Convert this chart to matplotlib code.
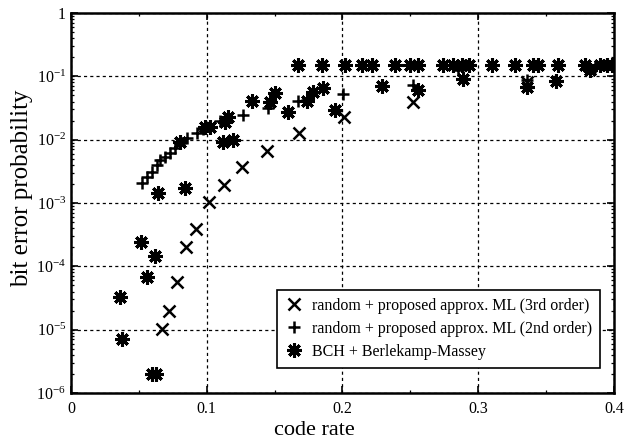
import numpy as np
import matplotlib
matplotlib.use("Agg")
import matplotlib.pyplot as plt
from matplotlib.ticker import FixedLocator, FuncFormatter, LogLocator, NullFormatter

plt.rcParams['font.family'] = ['Liberation Serif', 'DejaVu Serif']
plt.rcParams['mathtext.fontset'] = 'custom'
plt.rcParams['mathtext.rm'] = 'Liberation Serif'
plt.rcParams['mathtext.it'] = 'Liberation Serif:italic'

# random + proposed approx. ML (3rd order)
rate_3rd = [0.0674, 0.0723, 0.0782, 0.0845, 0.0924, 0.1015, 0.1127, 0.126,
            0.1442, 0.1676, 0.2011, 0.2519, 0.336]
ber_3rd = [1.02e-5, 2.0e-5, 5.7e-5, 2.05e-4, 3.9e-4, 1.05e-3, 1.92e-3, 3.7e-3,
           6.7e-3, 1.26e-2, 2.28e-2, 4.0e-2, 8.1e-2]

# random + proposed approx. ML (2nd order)
rate_2nd = [0.0521, 0.0558, 0.0594, 0.0631, 0.0656, 0.0692, 0.0729, 0.0766,
            0.0803, 0.0852, 0.0926, 0.0975, 0.1098, 0.1269, 0.1453, 0.1674,
            0.1736, 0.2006, 0.2516, 0.285, 0.3359, 0.386]
ber_2nd = [2.05e-3, 2.6e-3, 3.1e-3, 4.0e-3, 4.8e-3, 5.4e-3, 6.1e-3, 7.3e-3,
           8.8e-3, 1.05e-2, 1.26e-2, 1.5e-2, 2.0e-2, 2.45e-2, 3.2e-2, 4.15e-2,
           4.2e-2, 5.3e-2, 7.3e-2, 0.126, 8.75e-2, 0.14]

# BCH + Berlekamp-Massey
rate_bch = [0.036, 0.0376, 0.0519, 0.0558, 0.0619, 0.0594, 0.0628, 0.0643,
            0.084, 0.0803, 0.0987, 0.1024, 0.1122, 0.1196, 0.1134, 0.1159,
            0.133, 0.1466, 0.1503, 0.1596, 0.1674, 0.174, 0.1785, 0.1854,
            0.1851, 0.1945, 0.2018, 0.2145, 0.222, 0.2289, 0.2387, 0.2497,
            0.2558, 0.2558, 0.2743, 0.2816, 0.2878, 0.2935, 0.289, 0.3099,
            0.3271, 0.3404, 0.344, 0.3357, 0.3589, 0.3573, 0.3785, 0.3823,
            0.3897, 0.3946, 0.3983]
ber_bch = [3.3e-5, 7.0e-6, 2.45e-4, 6.7e-5, 1.45e-4, 2.0e-6, 2.0e-6, 1.42e-3,
           1.7e-3, 9.3e-3, 1.6e-2, 1.6e-2, 9.3e-3, 9.9e-3, 1.9e-2, 2.3e-2,
           4.1e-2, 4.0e-2, 5.4e-2, 2.7e-2, 0.151, 4.1e-2, 5.7e-2, 6.6e-2,
           0.151, 2.95e-2, 0.151, 0.151, 0.151, 7.0e-2, 0.151, 0.151,
           0.151, 6.1e-2, 0.151, 0.151, 0.151, 0.151, 9.0e-2, 0.151,
           0.151, 0.151, 0.151, 6.9e-2, 0.151, 8.5e-2, 0.151, 0.126,
           0.151, 0.151, 0.151]

x_ticks = [0, 0.1, 0.2, 0.3, 0.4]
x_tick_labels = ['0', '0.1', '0.2', '0.3', '0.4']
y_ticks = [1e-6, 1e-5, 1e-4, 1e-3, 1e-2, 1e-1, 1]


def decade_label(v, pos):
    if v >= 1:
        return '1'
    return r'$10^{%d}$' % int(round(np.log10(v)))


fig = plt.figure(figsize=(6.26, 4.44), dpi=100)
ax = fig.add_axes([0.1134, 0.1149, 0.8674, 0.8558])

ax.semilogy(rate_3rd, ber_3rd, linestyle='none', marker='x', color='black',
            markersize=8, markeredgewidth=1.8,
            label='random + proposed approx. ML (3rd order)')
ax.semilogy(rate_2nd, ber_2nd, linestyle='none', marker='+', color='black',
            markersize=9, markeredgewidth=1.8,
            label='random + proposed approx. ML (2nd order)')
ax.semilogy(rate_bch, ber_bch, linestyle='none', marker=(8, 2, 0), color='black',
            markersize=10.5, markeredgewidth=2.2,
            label='BCH + Berlekamp-Massey')

ax.set_xlim(0, 0.4)
ax.set_ylim(1e-6, 1)

ax.xaxis.set_major_locator(FixedLocator(x_ticks))
ax.set_xticklabels(x_tick_labels)
ax.xaxis.set_minor_locator(FixedLocator([0.05, 0.15, 0.25, 0.35]))
ax.yaxis.set_major_locator(FixedLocator(y_ticks))
ax.yaxis.set_major_formatter(FuncFormatter(decade_label))
ax.yaxis.set_minor_locator(LogLocator(base=10, subs=np.arange(2, 10), numticks=20))
ax.yaxis.set_minor_formatter(NullFormatter())

ax.tick_params(which='both', direction='in', top=True, right=True, labelsize=11.5)
ax.tick_params(which='major', length=5, width=1.2)
ax.tick_params(which='minor', length=2.5, width=0.9)
ax.tick_params(axis='x', pad=6)

ax.grid(True, which='major', color='black', linestyle=(0, (2.5, 2.5)), linewidth=0.9)

for s in ax.spines.values():
    s.set_linewidth(1.8)

ax.set_xlabel('code rate', fontsize=16)
ax.set_ylabel('bit error probability', fontsize=18)
ax.xaxis.set_label_coords(0.449, -0.074)
ax.yaxis.set_label_coords(-0.07, 0.54)

leg = ax.legend(loc='lower right', bbox_to_anchor=(0.975, 0.066), fontsize=11.5,
                frameon=True, fancybox=False, framealpha=1, edgecolor='black',
                handlelength=1.1, handletextpad=0.6, borderpad=0.5,
                labelspacing=0.45, borderaxespad=0)
leg.get_frame().set_linewidth(1.2)

fig.savefig('out.png', dpi=100)
